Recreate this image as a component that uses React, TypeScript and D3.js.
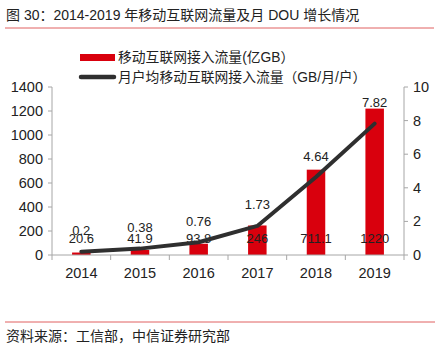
import React from "react";
import * as d3 from "d3";

const years = ["2014", "2015", "2016", "2017", "2018", "2019"];
const traffic = [20.6, 41.9, 93.8, 246, 711.1, 1220];
const trafficLabels = ["20.6", "41.9", "93.8", "246", "711.1", "1220"];
const dou = [0.2, 0.38, 0.76, 1.73, 4.64, 7.82];
const douLabels = ["0.2", "0.38", "0.76", "1.73", "4.64", "7.82"];
const leftTicks = [0, 200, 400, 600, 800, 1000, 1200, 1400];
const rightTicks = [0, 2, 4, 6, 8, 10];

const FONT = "'Liberation Sans', Arial, 'Noto Sans CJK SC', sans-serif";
const RED = "#d9000d";
const DARK = "#2f2f2f";
const AXIS = "#a6a6a6";

export default function App() {
  const W = 439, H = 347;
  const x0 = 52, x1 = 404, yTop = 87, yBot = 255;
  const band = d3.scaleBand().domain(years).range([x0, x1]);
  const yL = d3.scaleLinear().domain([0, 1400]).range([yBot, yTop]);
  const yR = d3.scaleLinear().domain([0, 10]).range([yBot, yTop]);
  const cx = (d: string) => (band(d) as number) + band.bandwidth() / 2;
  const line = d3.line<number>().x((_, i) => cx(years[i])).y((d) => yR(d));
  const bw = 18.5;

  return (
    <svg width={W} height={H} style={{ position: "absolute", left: 0, top: 0, background: "#fff" }} fontFamily={FONT}>
      <text x={6} y={20} fontSize={14} fill="#222">图 30：2014-2019 年移动互联网流量及月 DOU 增长情况</text>
      <line x1={5} x2={434} y1={28} y2={28} stroke="#e06060" strokeWidth={1} />

      {/* legend */}
      <rect x={80} y={54} width={35} height={7} fill={RED} />
      <text x={118} y={62} fontSize={13.8} fill="#222">移动互联网接入流量(亿GB）</text>
      <line x1={81} x2={114} y1={77} y2={77} stroke={DARK} strokeWidth={4.5} strokeLinecap="round" />
      <text x={118} y={82} fontSize={13.8} fill="#222">月户均移动互联网接入流量（GB/月/户）</text>

      {/* bars */}
      {traffic.map((v, i) => (
        <rect key={i} x={cx(years[i]) - bw / 2} y={yL(v)} width={bw} height={yBot - yL(v)} fill={RED} />
      ))}

      {/* axes */}
      <line x1={x0} x2={x0} y1={yTop} y2={yBot} stroke={AXIS} />
      <line x1={x1} x2={x1} y1={yTop} y2={yBot} stroke={AXIS} />
      <line x1={x0} x2={x1} y1={yBot} y2={yBot} stroke={AXIS} />
      {leftTicks.map((t) => (
        <g key={t}>
          <line x1={x0 - 4} x2={x0} y1={yL(t)} y2={yL(t)} stroke={AXIS} />
          <text x={x0 - 9} y={yL(t) + 5} textAnchor="end" fontSize={14.5} fill="#222">{t}</text>
        </g>
      ))}
      {rightTicks.map((t) => (
        <g key={t}>
          <line x1={x1} x2={x1 + 4} y1={yR(t)} y2={yR(t)} stroke={AXIS} />
          <text x={x1 + 9} y={yR(t) + 5} fontSize={14.5} fill="#222">{t}</text>
        </g>
      ))}
      {years.map((yr) => (
        <g key={yr}>
          <line x1={band(yr)} x2={band(yr)} y1={yBot} y2={yBot + 5} stroke={AXIS} />
          <text x={cx(yr)} y={278} textAnchor="middle" fontSize={14.5} fill="#222">{yr}</text>
        </g>
      ))}
      <line x1={x1} x2={x1} y1={yBot} y2={yBot + 5} stroke={AXIS} />

      {/* bar labels */}
      {trafficLabels.map((l, i) => (
        <text key={l} x={cx(years[i])} y={243} textAnchor="middle" fontSize={13} fill="#222">{l}</text>
      ))}

      {/* line */}
      <path d={line(dou) || ""} fill="none" stroke={DARK} strokeWidth={4} strokeLinejoin="round" strokeLinecap="round" />
      {douLabels.map((l, i) => (
        <text key={l} x={cx(years[i])} y={yR(dou[i]) - 16.5} textAnchor="middle" fontSize={13} fill="#222">{l}</text>
      ))}

      <line x1={5} x2={435} y1={322} y2={322} stroke="#e06060" strokeWidth={1} />
      <text x={6} y={341} fontSize={14} fill="#222">资料来源：工信部，中信证券研究部</text>
    </svg>
  );
}
